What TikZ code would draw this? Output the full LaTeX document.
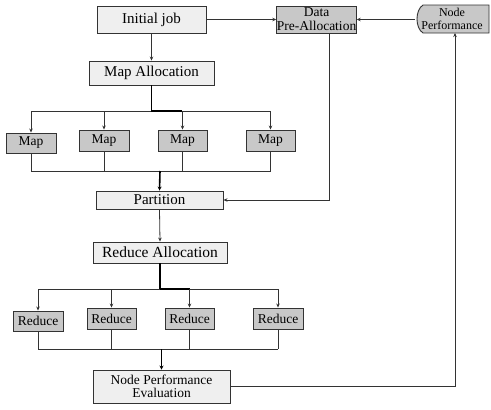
\documentclass[tikz,border=0pt]{standalone}
\usepackage{fontspec}
\setmainfont{Liberation Serif}
\usetikzlibrary{arrows.meta}
\definecolor{lightfill}{HTML}{EFEFEF}
\definecolor{darkfill}{HTML}{C8C8C8}
\definecolor{edge}{HTML}{333333}
\begin{document}
\begin{tikzpicture}[x=1pt,y=-1pt,
  lightbox/.style={draw=edge, fill=lightfill, line width=0.9pt, inner sep=0pt, align=center},
  darkbox/.style={draw=edge, fill=darkfill, line width=0.9pt, inner sep=0pt, align=center},
  arr/.style={draw=edge, line width=0.8pt, -{Stealth[length=4pt,width=3.5pt]}},
  ln/.style={draw=edge, line width=0.8pt},
  trunk/.style={draw=black, line width=1.6pt},
  trunkarr/.style={draw=black, line width=1.6pt, -{Stealth[length=4pt,width=4pt]}},
  bigtxt/.style={font=\fontsize{15}{17}\selectfont},
  midtxt/.style={font=\fontsize{13.5}{14}\selectfont}]
\useasboundingbox (0,0) rectangle (491,410);

% top row
\node[lightbox, bigtxt, minimum width=109pt, minimum height=27pt] (ij) at (151.5,19.5) {Initial job};
\node[darkbox, font=\fontsize{13.5}{14}\selectfont, minimum width=79pt, minimum height=27pt] (dpa) at (316.5,19.5) {Data\\Pre-Allocation};
\filldraw[draw=edge, fill=darkfill, line width=0.9pt]
  (489,5) -- (423,5) .. controls (415,10) and (415,28) .. (423,33) -- (489,33) -- cycle;
\node[font=\fontsize{12}{13}\selectfont, align=center, inner sep=0pt] (np) at (452,19) {Node\\Performance};
\coordinate (npw) at (415,19.5);
\coordinate (npbot) at (455,33);

\draw[arr] (ij.east) -- (dpa.west);
\draw[arr] (npw) -- (dpa.east);

% map allocation
\node[lightbox, bigtxt, minimum width=125pt, minimum height=24pt] (ma) at (151.5,73) {Map Allocation};
\draw[arr] (ij.south) -- (ma.north);

% maps
\node[darkbox, midtxt, minimum width=50pt, minimum height=20pt] (m1) at (31,143) {Map};
\node[darkbox, midtxt, minimum width=50pt, minimum height=21pt] (m2) at (104,140.5) {Map};
\node[darkbox, midtxt, minimum width=49pt, minimum height=21pt] (m3) at (182.5,140.5) {Map};
\node[darkbox, midtxt, minimum width=49pt, minimum height=21pt] (m4) at (270.5,140.5) {Map};

\coordinate (bm) at (151.5,111);
\draw[trunk] (ma.south) -- (bm);
\draw[ln] (m1.north |- bm) -- (m4.north |- bm);
\draw[trunk] ([xshift=-0.5pt]bm) -- ([xshift=30pt]bm);
\foreach \m in {m1,m2,m3,m4} \draw[arr] (\m.north |- bm) -- (\m.north);

% partition
\node[lightbox, bigtxt, minimum width=127pt, minimum height=18pt] (part) at (159.5,200) {Partition};
\coordinate (jm) at (160,171);
\foreach \m in {m1,m2,m3,m4} \draw[ln] (\m.south) -- (\m.south |- jm);
\draw[ln] (m1.south |- jm) -- (m4.south |- jm);
\draw[trunkarr] (jm) -- (part.north);
\draw[arr] ([xshift=12.5pt]dpa.south) |- (part.east);

% reduce allocation
\node[lightbox, font=\fontsize{15.5}{17}\selectfont, minimum width=134pt, minimum height=21pt] (ra) at (160,252.5) {Reduce Allocation};
\draw[arr] (part.south) -- (ra.north);

% reduces
\node[darkbox, midtxt, minimum width=50pt, minimum height=20pt] (r1) at (38,321) {Reduce};
\node[darkbox, midtxt, minimum width=49pt, minimum height=21pt] (r2) at (111.5,318.5) {Reduce};
\node[darkbox, midtxt, minimum width=49pt, minimum height=21pt] (r3) at (189.5,318.5) {Reduce};
\node[darkbox, midtxt, minimum width=50pt, minimum height=21pt] (r4) at (278,318.5) {Reduce};

\coordinate (br) at (160,289);
\draw[trunk] (ra.south) -- (br);
\draw[ln] (r1.north |- br) -- (r4.north |- br);
\draw[trunk] ([xshift=-0.5pt]br) -- ([xshift=30pt]br);
\foreach \r in {r1,r2,r3,r4} \draw[arr] (\r.north |- br) -- (\r.north);

% node performance evaluation
\node[lightbox, font=\fontsize{13.5}{13}\selectfont, minimum width=137pt, minimum height=33pt] (npe) at (161.5,386.5) {Node Performance\\Evaluation};
\coordinate (jr) at (161.5,349);
\foreach \r in {r1,r2,r3,r4} \draw[ln] (\r.south) -- (\r.south |- jr);
\draw[ln] (r1.south |- jr) -- (r4.south |- jr);
\draw[trunkarr] (jr) -- (npe.north);
\draw[arr] (npe.east) -| (npbot);
\end{tikzpicture}
\end{document}
